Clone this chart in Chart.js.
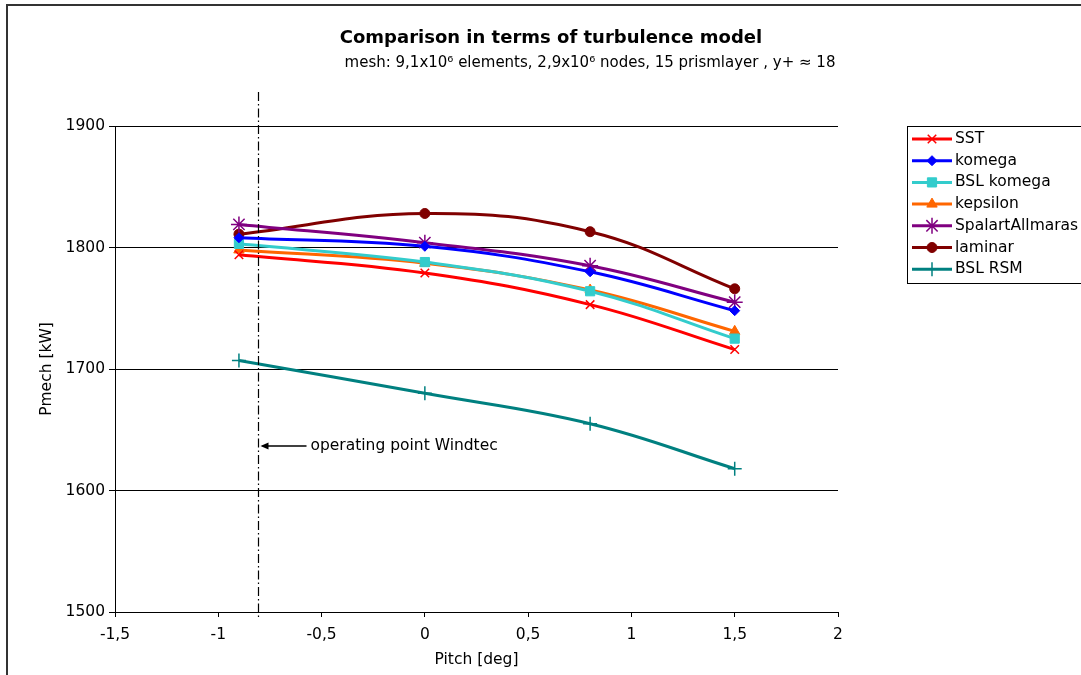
<!DOCTYPE html>
<html><head><meta charset="utf-8">
<script src="https://cdn.jsdelivr.net/npm/chart.js@4/dist/chart.umd.min.js"></script>
<style>html,body{margin:0;padding:0;background:#fff;overflow:hidden}</style>
</head>
<body>
<canvas id="c" width="1081" height="675"></canvas>
<script>
// ---- data ----
const pitch = [-0.9, 0, 0.8, 1.5];
const sst       = [1794, 1779, 1753, 1716];
const komega    = [1808, 1801, 1780, 1748];
const bslKomega = [1803, 1788, 1764, 1725];
const kepsilon  = [1798, 1787, 1765, 1731];
const spalart   = [1819, 1804, 1785, 1755];
const laminar   = [1811, 1828, 1813, 1766];
const bslRsm    = [1707, 1680, 1655, 1618];
const seriesNames = ['SST', 'komega', 'BSL komega', 'kepsilon', 'SpalartAllmaras', 'laminar', 'BSL RSM'];
const operatingPoint = -0.8;
const xTicks = [-1.5, -1, -0.5, 0, 0.5, 1, 1.5, 2];
const yTicks = [1500, 1600, 1700, 1800, 1900];
const titleText = 'Comparison in terms of turbulence model';
const subtitleText = 'mesh: 9,1x10\u2076 elements, 2,9x10\u2076 nodes, 15 prismlayer , y+ \u2248 18';
const annotationText = 'operating point Windtec';
const xTitle = 'Pitch [deg]';
const yTitle = 'Pmech [kW]';

const FONT = '"DejaVu Sans", Verdana, sans-serif';
const FS = 15.5;
const comma = v => String(v).replace('.', ',');

const styles = [
  {c:'#FF0000', p:'crossRot', r:6, bw:1.5},
  {c:'#0000FF', p:'rectRot', r:5, bw:1},
  {c:'#33CCCC', p:'rect', r:6.5, bw:1},
  {c:'#FF6600', p:'triangle', r:6, bw:1},
  {c:'#800080', p:'star', r:8, bw:1.5},
  {c:'#800000', p:'circle', r:5, bw:1},
  {c:'#008080', p:'cross', r:7, bw:1.5}
];
const values = [sst, komega, bslKomega, kepsilon, spalart, laminar, bslRsm];

const datasets = values.map((vals, i) => ({
  label: seriesNames[i],
  data: pitch.map((x, j) => ({x: x, y: vals[j]})),
  borderColor: styles[i].c,
  backgroundColor: styles[i].c,
  borderWidth: 3,
  pointStyle: styles[i].p,
  pointRadius: styles[i].r,
  pointBorderWidth: styles[i].bw,
  pointBackgroundColor: styles[i].c,
  pointBorderColor: styles[i].c,
  tension: 0.4,
  fill: false
}));

const decor = {
  id: 'decor',
  afterDraw(chart) {
    const ctx = chart.ctx;
    const a = chart.chartArea;
    const xs = chart.scales.x;
    ctx.save();
    // outer border
    ctx.strokeStyle = '#333';
    ctx.lineWidth = 2;
    ctx.strokeRect(7, 5, 1200, 1000);
    // titles
    ctx.fillStyle = '#000';
    ctx.textAlign = 'center';
    ctx.textBaseline = 'middle';
    ctx.font = 'bold 18px ' + FONT;
    ctx.fillText(titleText, 551, 38);
    ctx.font = '15px ' + FONT;
    ctx.fillText(subtitleText, 590, 63);
    // axis titles
    ctx.font = FS + 'px ' + FONT;
    ctx.fillText(xTitle, (a.left + a.right) / 2, 660);
    ctx.save();
    ctx.translate(47, (a.top + a.bottom) / 2);
    ctx.rotate(-Math.PI / 2);
    ctx.fillText(yTitle, 0, 0);
    ctx.restore();
    // operating point dash-dot line
    const ox = Math.floor(xs.getPixelForValue(operatingPoint)) - 0.5;
    ctx.strokeStyle = '#000';
    ctx.lineWidth = 1.2;
    ctx.setLineDash([9, 3, 1.5, 3]);
    ctx.beginPath();
    ctx.moveTo(ox, a.top - 34);
    ctx.lineTo(ox, a.bottom + 5);
    ctx.stroke();
    ctx.setLineDash([]);
    // arrow + text
    const ay = 446;
    ctx.lineWidth = 1.5;
    ctx.beginPath();
    ctx.moveTo(ox + 48, ay);
    ctx.lineTo(ox + 4, ay);
    ctx.stroke();
    ctx.beginPath();
    ctx.moveTo(ox + 2, ay);
    ctx.lineTo(ox + 10, ay - 3.5);
    ctx.lineTo(ox + 10, ay + 3.5);
    ctx.closePath();
    ctx.fillStyle = '#000';
    ctx.fill();
    ctx.textAlign = 'left';
    ctx.font = FS + 'px ' + FONT;
    ctx.fillText(annotationText, ox + 52, ay);
    // legend
    ctx.lineWidth = 1;
    ctx.strokeStyle = '#000';
    ctx.strokeRect(907.5, 126.5, 200, 157);
    chart.data.datasets.forEach((ds, i) => {
      const y = 139 + i * 21.7;
      ctx.strokeStyle = ds.borderColor;
      ctx.lineWidth = 3;
      ctx.beginPath();
      ctx.moveTo(912, y);
      ctx.lineTo(952, y);
      ctx.stroke();
      ctx.fillStyle = ds.pointBackgroundColor;
      ctx.strokeStyle = ds.pointBorderColor;
      ctx.lineWidth = ds.pointBorderWidth;
      Chart.helpers.drawPoint(ctx, {pointStyle: ds.pointStyle, radius: ds.pointRadius, borderWidth: ds.pointBorderWidth, rotation: 0}, 932, y);
      ctx.fillStyle = '#000';
      ctx.font = FS + 'px ' + FONT;
      ctx.textAlign = 'left';
      ctx.textBaseline = 'middle';
      ctx.fillText(ds.label, 955, y);
    });
    ctx.restore();
  }
};

new Chart(document.getElementById('c'), {
  type: 'line',
  data: { datasets },
  options: {
    responsive: false,
    animation: false,
    devicePixelRatio: 1,
    layout: { padding: { left: 0, top: 126, right: 243, bottom: 0 } },
    plugins: { legend: { display: false }, tooltip: { enabled: false }, title: { display: false } },
    scales: {
      x: {
        type: 'linear',
        min: xTicks[0], max: xTicks[xTicks.length - 1],
        afterBuildTicks: s => { s.ticks = xTicks.map(v => ({value: v})); },
        afterFit: s => { s.height = 63; },
        grid: { drawOnChartArea: false, drawTicks: true, tickLength: 5, color: '#000' },
        border: { display: true, color: '#000', width: 1 },
        ticks: { color: '#000', font: { family: FONT, size: FS }, padding: 9, maxRotation: 0,
                 callback: v => comma(v) }
      },
      y: {
        min: yTicks[0], max: yTicks[yTicks.length - 1],
        afterBuildTicks: s => { s.ticks = yTicks.map(v => ({value: v})); },
        afterFit: s => { s.width = 115; },
        grid: { drawOnChartArea: true, drawTicks: true, tickLength: 6, color: '#000', lineWidth: 1 },
        border: { display: true, color: '#000', width: 1 },
        ticks: { color: '#000', font: { family: FONT, size: FS }, padding: 4,
                 callback: v => comma(v) }
      }
    }
  },
  plugins: [decor]
});
</script>
</body></html>
